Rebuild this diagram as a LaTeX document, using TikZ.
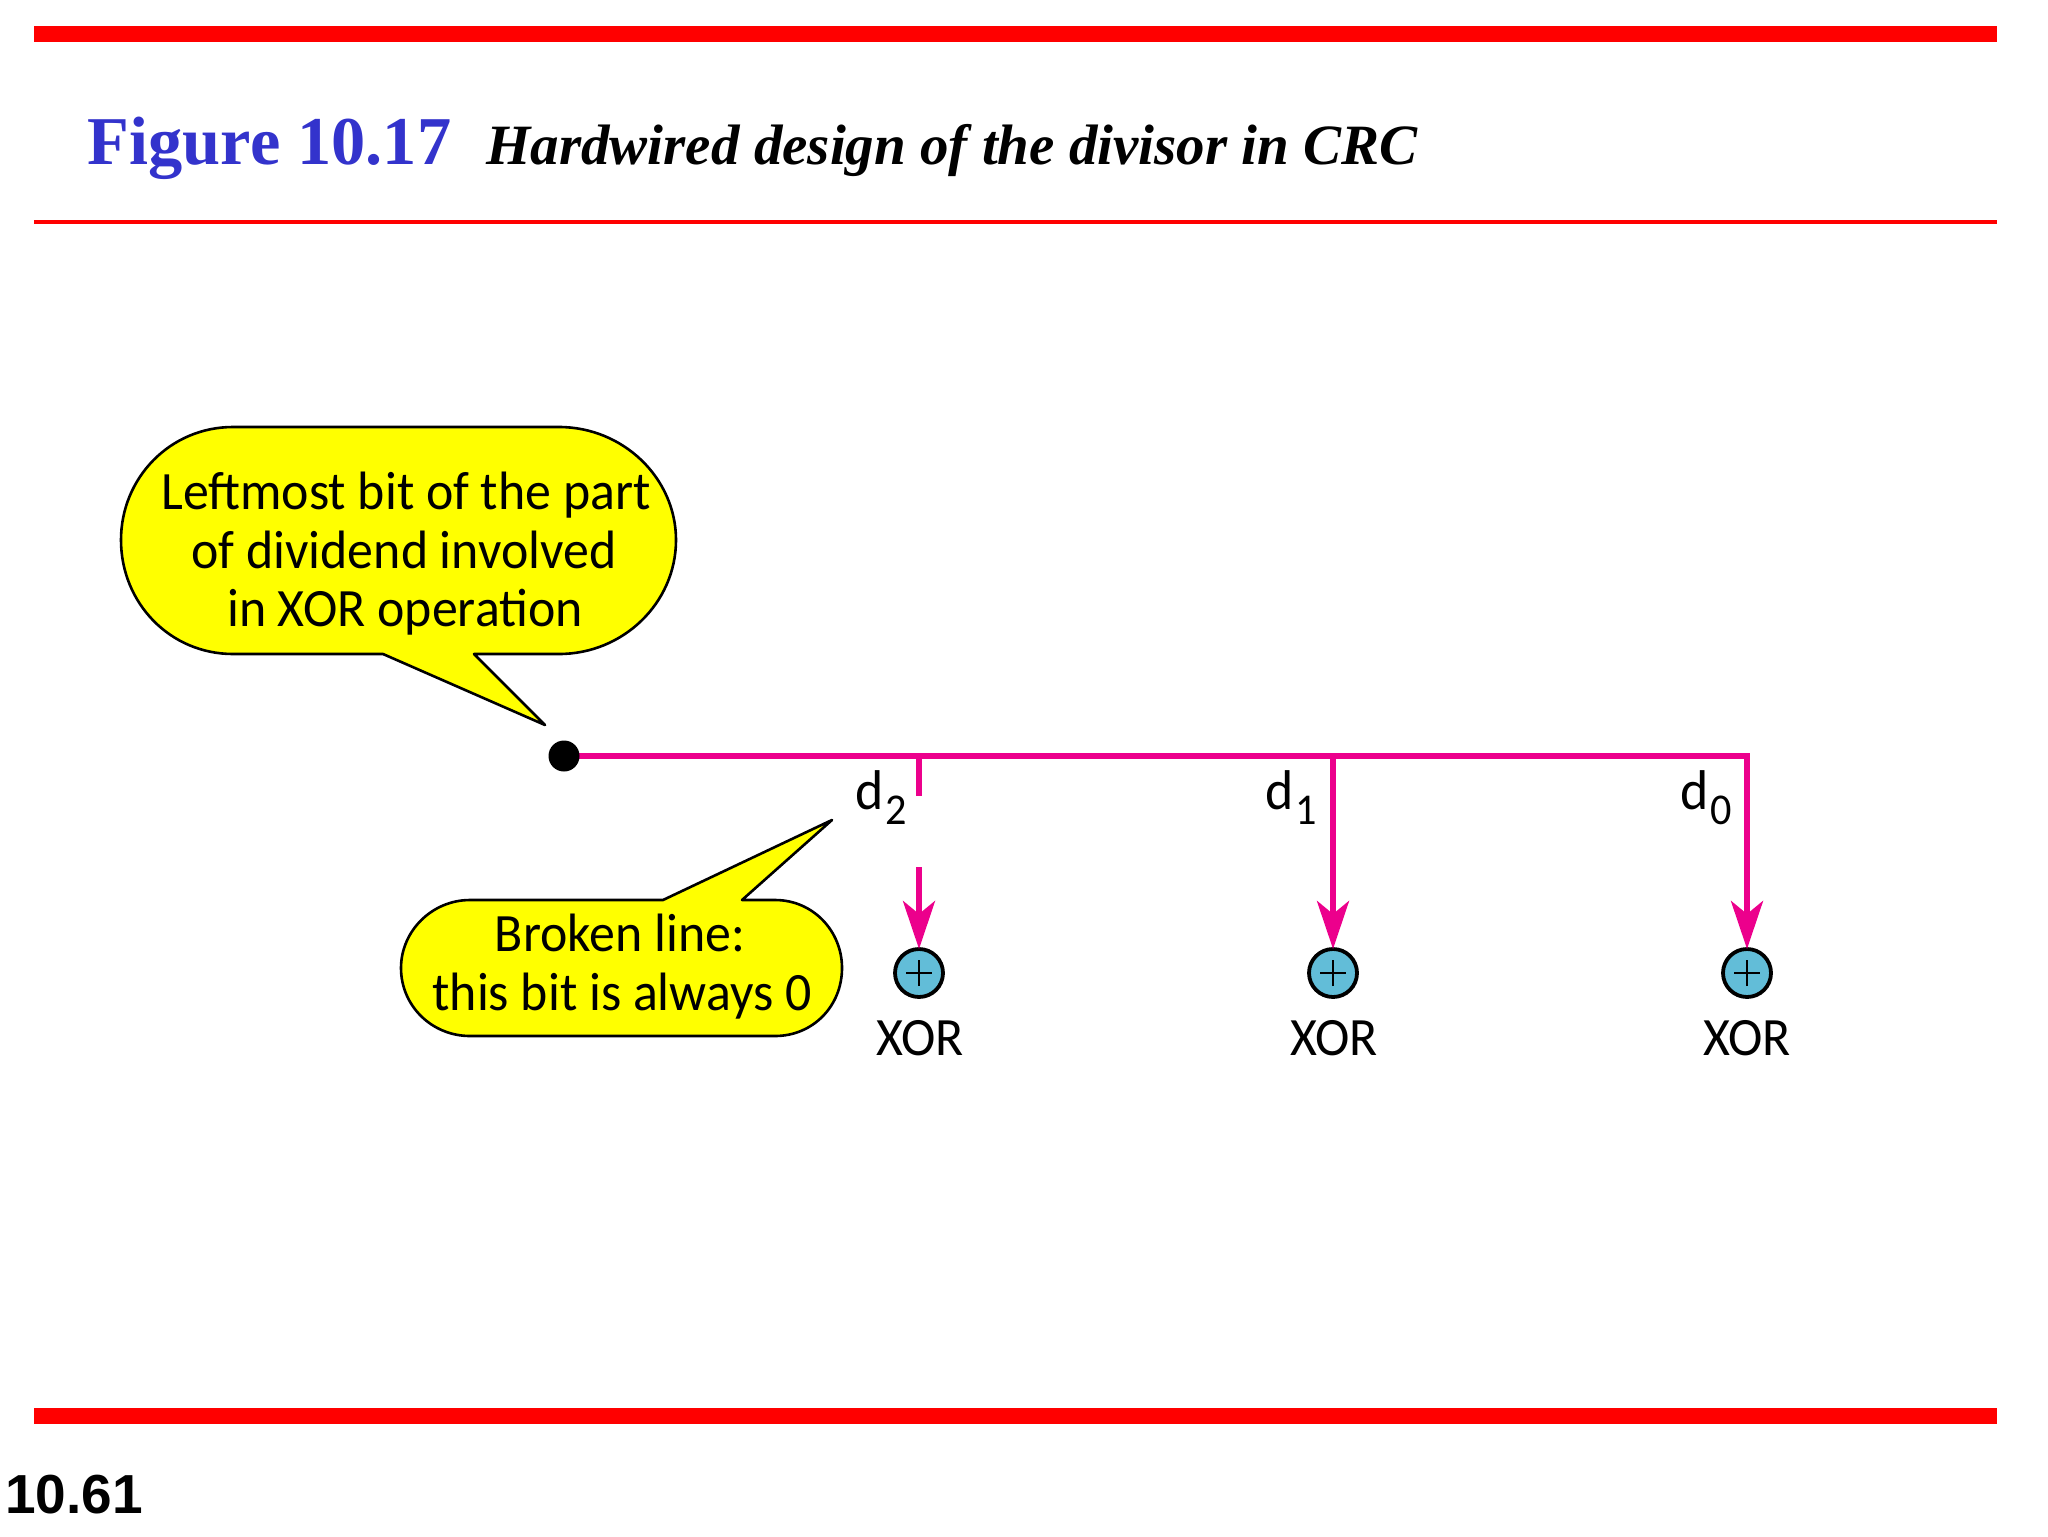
\documentclass[tikz,border=0pt]{standalone}
\usepackage{fontspec}
\usetikzlibrary{arrows.meta}
\setmainfont[FakeStretch=0.96]{Carlito}
\newfontfamily\titlefont{Liberation Serif}
\newfontfamily\pagefont{Liberation Sans}
\definecolor{barred}{RGB}{255,0,0}
\definecolor{titleblue}{RGB}{51,51,204}
\definecolor{wirepink}{RGB}{236,0,140}
\definecolor{xorblue}{RGB}{98,189,216}
\definecolor{noteyellow}{RGB}{255,255,0}
\newcommand{\subd}[1]{{\fontsize{28}{28}\selectfont d}\kern1pt\raisebox{-7.5pt}{\fontsize{22}{22}\selectfont #1}}
\tikzset{
  x=0.5pt,y=-0.5pt,
  bar/.style={fill=barred,draw=none},
  label text/.style={inner sep=0pt,outer sep=0pt,anchor=base,align=center,font=\fontsize{27}{29}\selectfont},
  callout/.style={fill=noteyellow,draw=black,line width=1.3pt,line join=round},
  wire/.style={draw=wirepink,line width=2.8pt,line join=miter},
  wirearrow/.style={wire,-{Stealth[length=24pt,width=16pt,inset=6.5pt]}},
  xorgate/.style={circle,draw=black,fill=xorblue,line width=1.9pt,minimum size=24pt,inner sep=0pt,outer sep=0pt},
  plusmark/.style={draw=black,line width=1.4pt},
}
\begin{document}
\begin{tikzpicture}
\useasboundingbox (0,0) rectangle (2048,1536);
\fill[white] (0,0) rectangle (2048,1536);
% rules
\path[bar] (34,26) rectangle (1997,42);
\path[bar] (34,220) rectangle (1997,224);
\path[bar] (34,1408) rectangle (1997,1424);
% heading
\node[anchor=base west,inner sep=0pt,text=titleblue] (figno) at (87.5,164) {\titlefont\bfseries\fontsize{34.2}{34}\selectfont Figure 10.17};
\node[anchor=base west,inner sep=0pt] (figtitle) at (486,164) {\titlefont\bfseries\itshape\fontsize{28.5}{30}\selectfont Hardwired design of the divisor in CRC};
\node[anchor=base west,inner sep=0pt] (pageno) at (5,1513) {\pagefont\bfseries\fontsize{27.5}{27}\selectfont 10.61};
% callouts
\draw[callout] (233,427) -- (559,427)
  .. controls (623,427) and (676,478) .. (676,540)
  .. controls (676,603) and (623,654) .. (559,654)
  -- (474,654) -- (545,725) -- (383,654) -- (233,654)
  .. controls (170,654) and (121,603) .. (121,540)
  .. controls (121,478) and (170,427) .. (233,427) -- cycle;
\node[label text] (note1a) at (406,509) {Leftmost bit of the part};
\node[label text] (note1b) at (404,568) {of dividend involved};
\node[label text] (note1c) at (405,626) {in XOR operation};
\draw[callout] (470,900) -- (663,900) -- (832,820) -- (742,900) -- (775,900)
  .. controls (813,900) and (842,931) .. (842,968)
  .. controls (842,1006) and (813,1036) .. (775,1036)
  -- (470,1036)
  .. controls (432,1036) and (401,1006) .. (401,968)
  .. controls (401,931) and (432,900) .. (470,900) -- cycle;
\node[label text] (note2a) at (620,951) {Broken line:};
\node[label text] (note2b) at (622,1010) {this bit is always 0};
% gates
\node[xorgate] (x2) at (919,973) {};
\node[xorgate] (x1) at (1333,973) {};
\node[xorgate] (x0) at (1747,973) {};
\foreach \g in {x2,x1,x0}{
  \draw[plusmark] ([xshift=-6.5pt]\g.center) -- ([xshift=6.5pt]\g.center);
  \draw[plusmark] ([yshift=-6.5pt]\g.center) -- ([yshift=6.5pt]\g.center);
}
\node[label text] (xl2) at (920,1055) {XOR};
\node[label text] (xl1) at (1334,1055) {XOR};
\node[label text] (xl0) at (1747,1055) {XOR};
% wires
\coordinate (c0) at (1747,756);
\coordinate (j2) at (919,756);
\coordinate (j1) at (1333,756);
\coordinate (b2a) at (919,796);
\coordinate (b2b) at (919,867);
\coordinate (start) at (564,756);
\draw[wirearrow] (start) -- (c0) -- (x0.north);
\draw[wire] (j2) -- (b2a);
\draw[wirearrow] (b2b) -- (x2.north);
\draw[wirearrow] (j1) -- (x1.north);
\node[circle,fill=black,minimum size=15.5pt,inner sep=0pt,outer sep=0pt] (dot) at (start) {};
\node[label text] (d2) at (881,809) {\subd{2}};
\node[label text] (d1) at (1291,809) {\subd{1}};
\node[label text] (d0) at (1706,809) {\subd{0}};
\end{tikzpicture}
\end{document}
